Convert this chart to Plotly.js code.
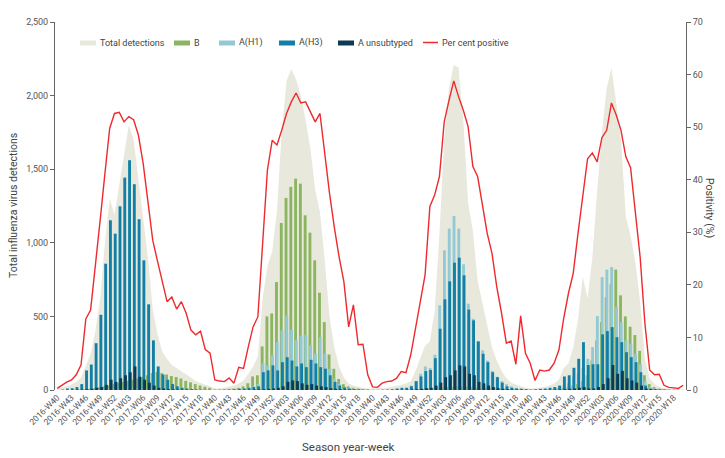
<!DOCTYPE html>
<html><head><meta charset="utf-8">
<script src="https://cdn.plot.ly/plotly-3.0.1.min.js"></script>
<style>html,body{margin:0;padding:0;background:#fff}#chart{width:725px;height:458px}</style>
</head><body><div id="chart"></div>
<script>
// Season start years and ISO weeks per season (W40 .. W20)
const seasons = [2016, 2017, 2018, 2019];
const seasonWeeks = [40,41,42,43,44,45,46,47,48,49,50,51,52,1,2,3,4,5,6,7,8,9,10,11,12,13,14,15,16,17,18,19,20];
const weeks = [];
seasons.forEach(y => seasonWeeks.forEach(w => weeks.push((w >= 40 ? y : y + 1) + '-W' + String(w).padStart(2, '0'))));

const tickLabels = [
  '2016-W40','2016-W43','2016-W46','2016-W49','2016-W52','2017-W03','2017-W06','2017-W09','2017-W12','2017-W15','2017-W18',
  '2017-W40','2017-W43','2017-W46','2017-W49','2017-W52','2018-W03','2018-W06','2018-W09','2018-W12','2018-W15','2018-W18',
  '2018-W40','2018-W43','2018-W46','2018-W49','2018-W52','2019-W03','2019-W06','2019-W09','2019-W12','2019-W15','2019-W18',
  '2019-W40','2019-W43','2019-W46','2019-W49','2019-W52','2020-W03','2020-W06','2020-W09','2020-W12','2020-W15','2020-W18'
];

const totalDetections = [
  10,15,25,35,55,85,170,245,400,620,1000,1300,1190,1400,1620,1800,1700,1420,1150,900,550,380,260,210,170,150,130,110,85,60,45,35,25,
  10,10,15,20,30,45,65,110,160,230,620,840,940,1220,1760,2100,2180,2110,2000,1830,1640,1360,1210,880,500,290,160,85,45,30,20,15,10,
  10,10,12,15,20,25,35,45,60,130,210,300,330,540,1060,1700,2050,2210,2190,1830,1270,1080,740,580,440,290,200,130,80,50,35,25,15,
  10,12,15,20,30,45,70,150,180,290,480,770,620,900,1350,1750,2050,2190,1950,1700,1180,1050,870,600,210,80,40,20,12,6,4,3,3
];
const fluB = [
  0,0,0,0,2,3,5,8,12,18,25,30,40,48,55,62,70,78,88,100,115,122,115,105,95,88,78,62,52,40,30,22,15,
  3,4,5,8,10,15,25,46,92,100,296,500,520,733,1135,1305,1380,1436,1402,1187,1069,881,661,461,241,144,75,40,25,15,10,6,4,
  0,0,0,1,1,2,2,3,4,5,6,8,10,12,15,18,20,22,25,25,22,20,18,15,14,12,10,9,8,6,5,4,3,
  2,2,3,4,5,8,10,15,20,30,40,60,100,200,337,461,631,720,818,643,500,430,373,266,100,40,20,10,5,3,2,1,1
];
const aH1 = [
  0,0,0,0,1,2,3,5,6,8,10,12,12,14,15,16,18,16,14,12,10,8,6,5,4,3,2,1,1,0,0,0,0,
  0,0,1,2,3,5,10,15,25,40,182,170,235,325,405,507,410,340,370,375,303,246,359,246,144,75,40,20,12,8,5,3,2,
  0,0,1,2,3,5,10,15,30,60,110,160,150,240,575,949,1097,1182,1097,854,586,484,332,270,200,130,90,60,40,25,15,10,5,
  0,1,2,3,5,8,15,30,45,90,110,150,212,291,502,767,818,835,563,461,337,314,246,175,60,20,10,5,3,2,1,1,0
];
const aH3 = [
  0,3,10,12,20,40,133,173,318,511,858,1153,1062,1248,1443,1561,1398,1160,881,582,337,160,105,70,40,25,15,10,6,4,3,2,1,
  1,1,2,3,5,8,10,15,20,25,121,133,167,133,189,223,200,160,180,155,205,180,155,145,100,55,30,18,10,6,4,2,1,
  1,1,2,3,5,10,15,15,25,60,92,128,136,216,416,616,738,865,899,779,546,473,330,246,189,121,87,50,25,15,10,8,5,
  3,5,8,10,15,20,30,92,100,151,212,325,170,175,175,378,400,427,359,325,257,223,189,121,30,10,5,3,2,1,1,0,0
];
const aUnsub = [
  0,0,0,1,2,3,5,8,15,20,35,70,55,80,100,120,160,90,70,50,30,15,10,6,4,3,2,1,1,0,0,0,0,
  0,0,0,0,0,1,1,2,3,4,5,8,10,15,25,55,65,60,45,35,40,30,25,20,12,8,5,3,2,1,1,0,0,
  0,0,0,0,0,1,1,2,3,5,8,12,15,30,50,87,100,133,167,160,110,100,55,45,30,20,12,8,5,3,2,1,1,
  0,0,0,1,1,2,3,5,8,10,15,20,10,10,20,40,80,170,110,130,80,65,50,30,10,5,3,2,1,0,0,0,0
];
const positivity = [
  0.3,0.9,1.5,1.9,2.9,4.8,13.5,15.2,23.4,32.3,41.2,49.8,52.6,52.8,51.0,52.0,51.4,48.5,43.1,35.5,28.5,24.5,20.9,16.8,17.7,15.4,16.8,14.6,11.4,10.5,11.2,7.7,7.0,
  1.9,1.7,1.6,2.3,1.3,4.3,4.1,8.2,12.0,13.9,28.5,41.8,47.5,46.6,49.4,52.6,54.8,56.5,54.6,54.8,52.9,51.0,52.6,44.4,37.4,31.0,25.3,20.6,12.0,16.2,8.6,8.7,2.9,
  0.6,0.5,1.3,1.6,1.7,2.2,3.5,3.3,6.7,12.0,16.5,21.9,34.9,37.1,40.6,51.0,55.1,58.8,55.8,53.2,50.1,42.5,40.6,35.5,29.8,26.0,19.6,14.6,8.9,9.3,4.9,14.1,7.0,
  5.1,1.8,3.8,3.6,3.8,5.1,7.6,13.6,18.4,22.2,29.8,37.1,44.0,45.1,43.4,48.0,49.4,54.6,52.3,49.4,44.4,42.3,34.2,25.3,12.7,3.8,2.9,3.0,0.9,0.5,0.4,0.3,0.9
];

const C = {area:'#e9e8dc', B:'#8cb561', H1:'#92c9d5', H3:'#127fa7', UN:'#0b3b52', red:'#ee2a2e', text:'#444', axis:'#666'};
const FONT = 'Roboto, "Open Sans", sans-serif';

// area on main y (bottom layer), bars on hidden overlay y2 (same scale), positivity on right axis y3 (top layer)
const barW = 0.6;
const traces = [
  {type:'scatter', mode:'lines', x:weeks, y:totalDetections, fill:'tozeroy', fillcolor:C.area, line:{width:0, color:C.area}, name:'Total detections'},
  {type:'bar', x:weeks, y:fluB, yaxis:'y2', name:'B', marker:{color:C.B, line:{width:0}}, width:barW, offset:-0.4},
  {type:'bar', x:weeks, y:aH1, yaxis:'y2', name:'A(H1)', marker:{color:C.H1, line:{width:0}}, width:barW, offset:-0.25},
  {type:'bar', x:weeks, y:aH3, yaxis:'y2', name:'A(H3)', marker:{color:C.H3, line:{width:0}}, width:barW, offset:-0.15},
  {type:'bar', x:weeks, y:aUnsub, yaxis:'y2', name:'A unsubtyped', marker:{color:C.UN, line:{width:0}}, width:barW, offset:0.0},
  {type:'scatter', mode:'lines', x:weeks, y:positivity, yaxis:'y3', name:'Per cent positive', line:{color:C.red, width:1.4}}
];

// pixel helpers for legend / titles (plot area: x 55..686, y 22..390)
const PX = px => (px - 55) / 631;
const PY = py => (390 - py) / 368;

const legendItems = [
  {label:'Total detections', color:C.area, x0:80},
  {label:'B', color:C.B, x0:174},
  {label:'A(H1)', color:C.H1, x0:219},
  {label:'A(H3)', color:C.H3, x0:279},
  {label:'A unsubtyped', color:C.UN, x0:338}
];
const shapes = [];
const annotations = [];
legendItems.forEach(it => {
  shapes.push({type:'rect', xref:'paper', yref:'paper', x0:PX(it.x0), x1:PX(it.x0+16), y0:PY(45.5), y1:PY(40.5), fillcolor:it.color, line:{width:0}, layer:'above'});
  annotations.push({xref:'paper', yref:'paper', x:PX(it.x0+17.5), y:PY(43), text:it.label, showarrow:false, xanchor:'left', yanchor:'middle', font:{family:FONT, size:9, color:C.text}});
});
shapes.push({type:'line', xref:'paper', yref:'paper', x0:PX(423), x1:PX(438), y0:PY(42.5), y1:PY(42.5), line:{color:C.red, width:1.5}, layer:'above'});
annotations.push({xref:'paper', yref:'paper', x:PX(439.5), y:PY(43), text:'Per cent positive', showarrow:false, xanchor:'left', yanchor:'middle', font:{family:FONT, size:9, color:C.text}});

annotations.push({xref:'paper', yref:'paper', x:PX(13), y:PY(206), text:'Total influenza virus detections', textangle:-90, showarrow:false, xanchor:'center', yanchor:'middle', font:{family:FONT, size:10.5, color:C.text}});
annotations.push({xref:'paper', yref:'paper', x:PX(710), y:PY(208), text:'Positivity (%)', textangle:90, showarrow:false, xanchor:'center', yanchor:'middle', font:{family:FONT, size:10.5, color:C.text}});
annotations.push({xref:'paper', yref:'paper', x:PX(348), y:PY(447), text:'Season year-week', showarrow:false, xanchor:'center', yanchor:'middle', font:{family:FONT, size:11.5, color:C.text}});

const axisCommon = {showgrid:false, zeroline:false, showline:true, linecolor:C.axis, linewidth:1, ticks:'outside', ticklen:4, tickcolor:C.axis, tickfont:{family:FONT, size:9, color:'#555'}, automargin:false};

const layout = {
  width:725, height:458,
  margin:{l:55, r:39, t:22, b:68, pad:0},
  paper_bgcolor:'#fff', plot_bgcolor:'#fff',
  showlegend:false,
  barmode:'overlay',
  font:{family:FONT, color:C.text},
  xaxis:{type:'category', range:[-0.45, 131.6], tickmode:'array', tickvals:tickLabels, ticktext:tickLabels, tickangle:-45, ticks:'', showline:false, showgrid:false, zeroline:false, tickfont:{family:FONT, size:8.5, color:'#555'}, automargin:false},
  yaxis:Object.assign({}, axisCommon, {range:[0, 2500], dtick:500, tickformat:',d'}),
  yaxis2:{overlaying:'y', range:[0, 2500], visible:false, showgrid:false, zeroline:false},
  yaxis3:Object.assign({}, axisCommon, {overlaying:'y', side:'right', range:[0, 70], dtick:10}),
  shapes:shapes,
  annotations:annotations
};

Plotly.newPlot('chart', traces, layout, {displayModeBar:false, staticPlot:true});
</script>
</body></html>
